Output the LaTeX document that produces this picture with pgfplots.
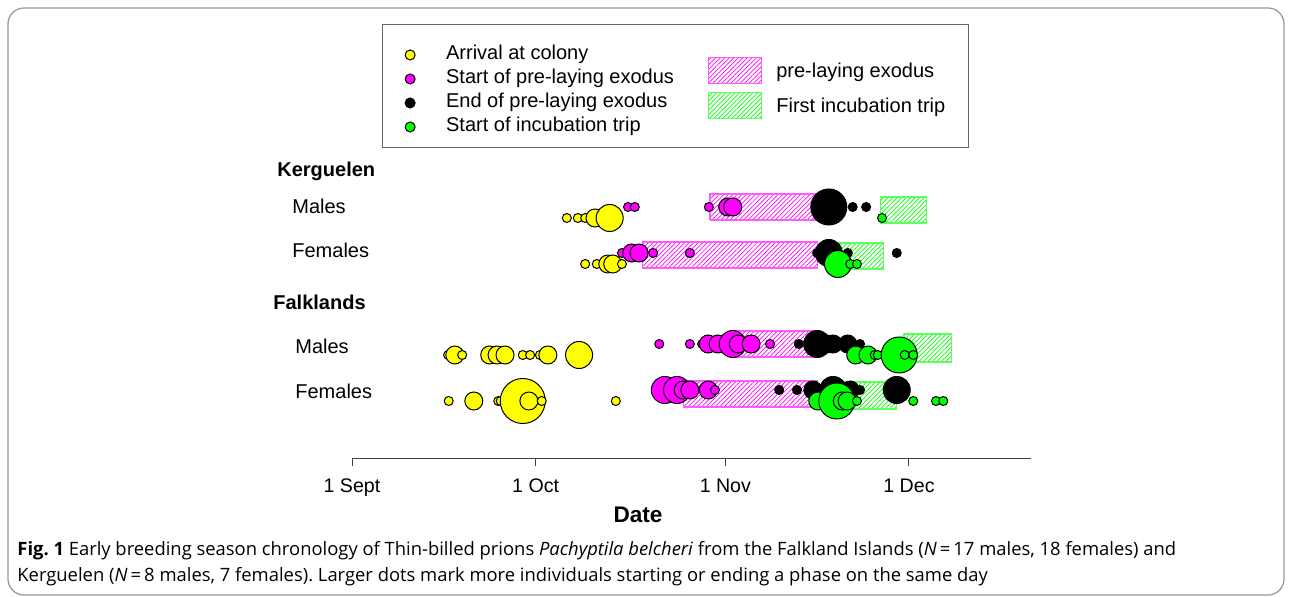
\documentclass[border=0pt]{standalone}
\usepackage{fontspec}
\setmainfont{Liberation Sans}
\newfontfamily\capfont{Open Sans}
\usepackage{pgfplots}
\usepackage{pgfplotstable}
\pgfplotsset{compat=1.18}
\usetikzlibrary{patterns.meta}
\definecolor{ymark}{RGB}{255,255,0}
\definecolor{mmark}{RGB}{255,0,255}
\definecolor{gmark}{RGB}{0,255,0}
\definecolor{mline}{RGB}{255,90,255}
\definecolor{gline}{RGB}{90,255,90}
\definecolor{framegray}{RGB}{150,150,150}

\tikzset{
  hatchM/.style={draw=mline, line width=0.6pt, pattern={Lines[angle=45,distance=1.6pt,line width=0.35pt]}, pattern color=mmark},
  hatchG/.style={draw=gline, line width=0.6pt, pattern={Lines[angle=45,distance=1.6pt,line width=0.35pt]}, pattern color=gmark},
}
\pgfplotsset{
  bubble/.style={only marks, mark=*, scatter, forget plot,
    mark options={draw=black, fill=#1, line width=0.5pt},
    visualization depends on={\thisrow{n} \as \cnt},
    scatter/@pre marker code/.code={\pgfmathsetmacro\ms{2.25*\cnt}\scope[mark size=\ms pt]},
    scatter/@post marker code/.code={\endscope}},
}

% x = days since 1 Sept, y = vertical position of the row, n = number of birds
\pgfplotstableread{
x y n
35.1 241 1
36.9 241 1
38.1 241 1
39.7 241 2
42.1 241 3
38.1 195 1
40.0 195 1
41.8 195 2
42.6 195 2
44.1 195 1
15.7 104 1
16.8 104 2
18.0 104 1
22.5 104 2
23.7 104 2
25.0 104 2
27.9 104 1
29.1 104 1
30.7 104 1
32.0 104 2
37.1 104 3
15.8 58 1
19.9 58 2
23.9 58 1
24.3 58 1
27.9 58 5
28.9 58 2
31.0 58 1
43.1 58 1
}\arrival
\pgfplotstableread{
x y n
45.1 252 1
46.2 252 1
58.3 252 1
60.6 252 1
61.4 252 2
62.2 252 2
44.1 206 1
45.7 206 2
46.9 206 2
49.2 206 1
55.2 206 1
50.2 115 1
55.2 115 1
57.2 115 1
58.2 115 2
59.8 115 2
62.2 115 3
63.1 115 2
65.2 115 2
68.3 115 1
51.1 69 3
53.1 69 3
54.1 69 2
55.2 69 2
58.2 69 2
59.3 69 1
}\exstart
\pgfplotstableread{
x y n
77.9 252 4
81.8 252 1
84.0 252 1
76.0 206 1
77.9 206 3
81.0 206 1
89.0 206 1
73.0 115 1
76.0 115 3
77.5 115 2
78.6 115 2
81.0 115 2
83.0 115 1
69.8 69 1
72.7 69 1
75.3 69 2
78.6 69 3
81.4 69 2
83.0 69 1
89.0 69 3
}\exend
\pgfplotstableread{
x y n
86.6 241 1
79.4 195 3
81.4 195 1
82.5 195 1
82.3 104 2
84.3 104 2
85.4 104 1
85.9 104 1
89.4 104 4
90.3 104 1
91.7 104 1
76.1 58 2
79.2 58 4
80.1 58 2
80.9 58 2
82.5 58 1
91.7 58 1
95.4 58 1
96.6 58 1
}\incub

\begin{document}
\frenchspacing
\begin{tikzpicture}
\useasboundingbox (0,0) rectangle (646pt,-298.5pt);
\begin{scope}[x=0.5pt,y=-0.5pt]
\draw[framegray, line width=0.6pt, rounded corners=8pt] (8,8) rectangle (1284,595);
\draw[black!60, line width=0.5pt] (382,25) rectangle (968,148);
\end{scope}

\begin{axis}[
  at={(176pt,-229.5pt)}, anchor=south west,
  scale only axis, width=339.7pt, height=219.5pt,
  xmin=0, xmax=111, ymin=0, ymax=439,
  axis x line*=bottom, axis y line=none,
  x axis line style={-, draw=black!75, line width=0.5pt},
  xtick={0,30,61,91},
  xticklabels={\textrm{1 Sept},\textrm{1 Oct},\textrm{1 Nov},\textrm{1 Dec}},
  xticklabel style={font=\fontsize{9.8}{11}\selectfont, anchor=mid, yshift=-10.5pt},
  tick align=outside, major tick length=3.5pt,
  tick style={draw=black!75, line width=0.5pt},
  clip=false,
  legend style={at={(0.0767,0.9431)}, anchor=north west, draw=none, fill=none,
    inner sep=0pt, outer sep=0pt, font=\fontsize{10}{12}\selectfont,
    cells={anchor=west}, nodes={inner sep=0pt, text height=7.5pt, text depth=2.5pt}, row sep=2pt},
  legend image code/.code={\path[draw=none,fill=none] (-3pt,-3pt) (18pt,3pt); \draw[#1] plot coordinates {(0pt,0pt)};},
]
% pre-laying exodus periods
\addplot[forget plot, hatchM] coordinates {(58.5,239) (77.4,239) (77.4,265) (58.5,265) (58.5,239)};
\addplot[forget plot, hatchM] coordinates {(47.4,191) (76.1,191) (76.1,217) (47.4,217) (47.4,191)};
\addplot[forget plot, hatchM] coordinates {(61.8,102) (75.6,102) (75.6,128) (61.8,128) (61.8,102)};
\addplot[forget plot, hatchM] coordinates {(54.1,52) (76.1,52) (76.1,78) (54.1,78) (54.1,52)};
% first incubation trips
\addplot[forget plot, hatchG] coordinates {(86.3,236) (93.9,236) (93.9,262) (86.3,262) (86.3,236)};
\addplot[forget plot, hatchG] coordinates {(78.1,190) (86.9,190) (86.9,216) (78.1,216) (78.1,190)};
\addplot[forget plot, hatchG] coordinates {(90.2,97) (98.0,97) (98.0,125) (90.2,125) (90.2,97)};
\addplot[forget plot, hatchG] coordinates {(78.1,50) (88.9,50) (88.9,77) (78.1,77) (78.1,50)};
% dots
\addplot[bubble=ymark] table {\arrival};
\addplot[bubble=mmark] table {\exstart};
\addplot[bubble=black] table {\exend};
\addplot[bubble=gmark] table {\incub};

\addlegendimage{mark=*, mark size=2.5pt, mark options={fill=ymark, draw=black, line width=0.5pt}}
\addlegendentry{Arrival at colony}
\addlegendimage{mark=*, mark size=2.5pt, mark options={fill=mmark, draw=black, line width=0.5pt}}
\addlegendentry{Start of pre-laying exodus}
\addlegendimage{mark=*, mark size=2.5pt, mark options={fill=black, draw=black, line width=0.5pt}}
\addlegendentry{End of pre-laying exodus}
\addlegendimage{mark=*, mark size=2.5pt, mark options={fill=gmark, draw=black, line width=0.5pt}}
\addlegendentry{Start of incubation trip}
\end{axis}

\begin{axis}[
  at={(176pt,-229.5pt)}, anchor=south west,
  scale only axis, width=339.7pt, height=219.5pt,
  xmin=0, xmax=111, ymin=0, ymax=439, hide axis,
  legend style={at={(0.5236,0.9157)}, anchor=north west, draw=none, fill=none,
    inner sep=0pt, outer sep=0pt, font=\fontsize{10}{12}\selectfont,
    cells={anchor=west}, nodes={inner sep=0pt, text height=8.2pt, text depth=1.2pt}, row sep=4pt},
  legend image code/.code={\draw[#1] (0pt,-6.5pt) rectangle (26.5pt,6.5pt); \path[draw=none,fill=none] (34pt,0pt);},
]
\addlegendimage{hatchM}
\addlegendentry{pre-laying exodus}
\addlegendimage{hatchG}
\addlegendentry{First incubation trip}
\end{axis}

\begin{scope}[x=0.5pt,y=-0.5pt, every node/.style={inner sep=0pt}]
\node[anchor=mid west, font=\bfseries\fontsize{10}{12}\selectfont] at (277,171) {Kerguelen};
\node[anchor=mid west, font=\fontsize{10}{12}\selectfont] at (292,208) {Males};
\node[anchor=mid west, font=\fontsize{10}{12}\selectfont] at (292,252) {Females};
\node[anchor=mid west, font=\bfseries\fontsize{10}{12}\selectfont] at (273,304) {Falklands};
\node[anchor=mid west, font=\fontsize{10}{12}\selectfont] at (295,348) {Males};
\node[anchor=mid west, font=\fontsize{10}{12}\selectfont] at (295,393) {Females};
\node[font=\bfseries\fontsize{11.3}{13}\selectfont] at (638,515) {Date};
\node[anchor=mid west, font=\capfont\fontsize{9.2}{11}\selectfont] at (17,550) {\textbf{Fig. 1} Early breeding season chronology of Thin-billed prions \textit{Pachyptila belcheri} from the Falkland Islands (\textit{N}\,=\,17 males, 18 females) and};
\node[anchor=mid west, font=\capfont\fontsize{9.2}{11}\selectfont] at (17,576) {Kerguelen (\textit{N}\,=\,8 males, 7 females). Larger dots mark more individuals starting or ending a phase on the same day};
\end{scope}
\end{tikzpicture}
\end{document}
